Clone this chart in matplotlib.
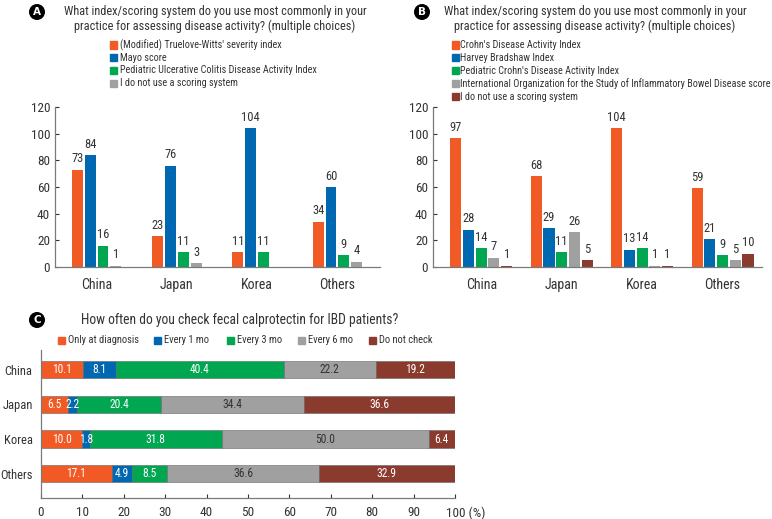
import matplotlib
matplotlib.use("Agg")
import matplotlib.pyplot as plt
from matplotlib import font_manager
import matplotlib.transforms as mtransforms
import numpy as np

avail = {f.name for f in font_manager.fontManager.ttflist}
cands = ["Liberation Sans Narrow", "Roboto Condensed", "Open Sans Condensed", "Roboto", "DejaVu Sans"]
fam = [c for c in cands if c in avail][0]
plt.rcParams['font.family'] = [fam, 'DejaVu Sans']

# ---------------- data ----------------
countries = ["China", "Japan", "Korea", "Others"]

a_series = ["(Modified) Truelove-Witts' severity index", "Mayo score",
            "Pediatric Ulcerative Colitis Disease Activity Index", "I do not use a scoring system"]
a_values = [[73, 23, 11, 34],
            [84, 76, 104, 60],
            [16, 11, 11, 9],
            [1, 3, 0, 4]]

b_series = ["Crohn's Disease Activity Index", "Harvey Bradshaw Index",
            "Pediatric Crohn's Disease Activity Index",
            "International Organization for the Study of Inflammatory Bowel Disease score",
            "I do not use a scoring system"]
b_values = [[97, 68, 104, 59],
            [28, 29, 13, 21],
            [14, 11, 14, 9],
            [7, 26, 1, 5],
            [1, 5, 1, 10]]

c_series = ["Only at diagnosis", "Every 1 mo", "Every 3 mo", "Every 6 mo", "Do not check"]
c_values = [[10.1, 6.5, 10.0, 17.1],
            [8.1, 2.2, 1.8, 4.9],
            [40.4, 20.4, 31.8, 8.5],
            [22.2, 34.4, 50.0, 36.6],
            [19.2, 36.6, 6.4, 32.9]]

title_ab = "What index/scoring system do you use most commonly in your\npractice for assessing disease activity? (multiple choices)"
title_c = "How often do you check fecal calprotectin for IBD patients?"

ORANGE, BLUE, GREEN, GRAY, BROWN = '#F15A24', '#0067B1', '#00A650', '#A0A0A0', '#8B3A2E'
TXT = '#333333'
SPINE = '#7a7a7a'

W, H = 772, 519
fig = plt.figure(figsize=(W / 100, H / 100), dpi=100)

def fx(px): return px / W
def fy(py): return 1 - py / H

def circ(x, y, letter):
    fig.text(fx(x), fy(y), letter, ha='center', va='center', color='white', fontsize=7.5,
             fontweight='bold', family='DejaVu Sans',
             bbox=dict(boxstyle='circle,pad=0.22', fc='black', ec='black'))

def square(x, y, c):
    fig.patches.append(plt.Rectangle((fx(x), fy(y + 3.5)), 7 / W, 7 / H, color=c,
                                     transform=fig.transFigure, figure=fig))

def style_bar_axes(ax):
    for s in ['top', 'right']:
        ax.spines[s].set_visible(False)
    for s in ['left', 'bottom']:
        ax.spines[s].set_color(SPINE)
        ax.spines[s].set_linewidth(0.9)
    ax.tick_params(colors=TXT, labelsize=9.5, direction='in', length=3, width=0.8)

def grouped(ax, series_vals, colors, width, step, xlim):
    n = len(series_vals)
    x = np.arange(len(countries))
    for i, (vals, c) in enumerate(zip(series_vals, colors)):
        pos = x + (i - (n - 1) / 2) * step
        bars = ax.bar(pos, vals, width=width, color=c, edgecolor='none')
        for b, v in zip(bars, vals):
            if v > 0:
                ax.annotate(str(v), (b.get_x() + b.get_width() / 2, v), xytext=(0, 3),
                            textcoords='offset points', ha='center', va='bottom',
                            fontsize=9, color=TXT)
    ax.set_xlim(*xlim)
    ax.set_ylim(0, 120)
    ax.set_yticks(range(0, 121, 20))
    ax.set_xticks(x)
    ax.set_xticklabels(countries)
    style_bar_axes(ax)
    ax.tick_params(axis='x', length=0, pad=8, labelsize=10)

# ---------------- Panel A ----------------
axA = fig.add_axes([fx(55), fy(267), (380 - 55) / W, (267 - 107) / H])
grouped(axA, a_values, [ORANGE, BLUE, GREEN, GRAY], 0.135, 0.16, (-0.517, 3.53))
circ(37, 12, 'A')
fig.text(fx(215), fy(19), title_ab, ha='center', va='center', fontsize=8.8, color=TXT,
         linespacing=1.2)
for i, (name, c) in enumerate(zip(a_series, [ORANGE, BLUE, GREEN, GRAY])):
    yy = 45 + i * 12.7
    square(110, yy, c)
    fig.text(fx(120), fy(yy), name, ha='left', va='center', fontsize=7.3, color=TXT)

# ---------------- Panel B ----------------
axB = fig.add_axes([fx(433), fy(267), (762 - 433) / W, (267 - 107) / H])
grouped(axB, b_values, [ORANGE, BLUE, GREEN, GRAY, BROWN], 0.137, 0.158, (-0.60, 3.49))
circ(422, 12, 'B')
fig.text(fx(595), fy(19), title_ab, ha='center', va='center', fontsize=8.8, color=TXT,
         linespacing=1.2)
for i, (name, c) in enumerate(zip(b_series, [ORANGE, BLUE, GREEN, GRAY, BROWN])):
    yy = 45 + i * 12.9
    square(452, yy, c)
    fig.text(fx(460), fy(yy), name, ha='left', va='center', fontsize=7.3, color=TXT)

# ---------------- Panel C ----------------
axC = fig.add_axes([fx(41), fy(498), (455 - 41) / W, (498 - 350) / H])
y = np.arange(len(countries))
left = np.zeros(len(countries))
ccolors = [ORANGE, BLUE, GREEN, GRAY, BROWN]
for vals, c in zip(c_values, ccolors):
    vals = np.array(vals)
    axC.barh(y, vals, left=left, height=0.5, color=c, edgecolor='#666666', linewidth=0.4)
    for yi, (l, v) in enumerate(zip(left, vals)):
        axC.text(l + v / 2, yi, f"{v:.1f}", ha='center', va='center', fontsize=8.3,
                 color=TXT if c == GRAY else 'white')
    left += vals
axC.set_ylim(3.70, -0.57)
axC.set_xlim(0, 100)
axC.set_yticks(y)
axC.set_yticklabels(countries)
axC.set_xticks(range(0, 101, 10))
axC.set_xticklabels([str(v) for v in range(0, 100, 10)] + ["100 (%)"])
style_bar_axes(axC)
axC.tick_params(axis='y', length=0, pad=6, labelsize=9)
axC.tick_params(axis='x', pad=6)
last = axC.get_xticklabels()[-1]
last.set_horizontalalignment('left')
last.set_transform(last.get_transform() + mtransforms.ScaledTranslation(-9 / 100, 0, fig.dpi_scale_trans))

circ(37, 320, 'C')
fig.text(fx(240), fy(320), title_c, ha='center', va='center', fontsize=9.8, color=TXT)
leg_x = [58, 154, 227, 298, 369]
for lx, name, c in zip(leg_x, c_series, ccolors):
    square(lx, 340, c)
    fig.text(fx(lx + 10), fy(340), name, ha='left', va='center', fontsize=7.6, color=TXT)

fig.savefig("out.png", dpi=100)
